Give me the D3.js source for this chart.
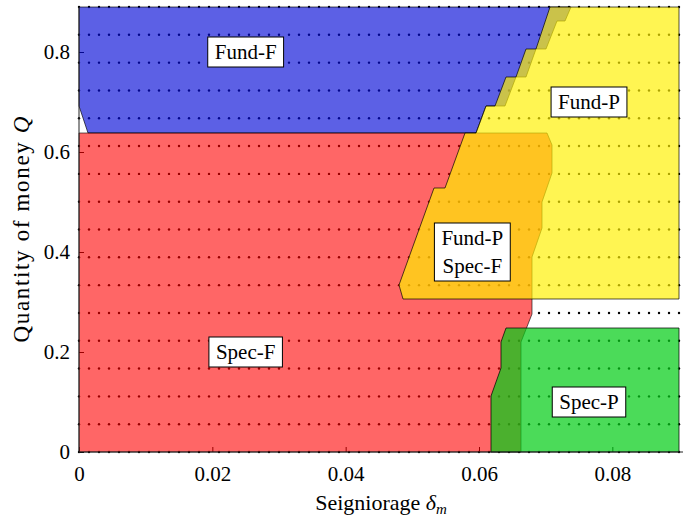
<!DOCTYPE html>
<html>
<head>
<meta charset="utf-8">
<script src="https://cdn.jsdelivr.net/npm/d3@7"></script>
<style>
  body { margin: 0; background: #fff; }
  text { font-family: "Liberation Serif", serif; fill: #000; }
</style>
</head>
<body>
<div id="plot"></div>
<script>
const w = 692, h = 518,
    margin = {top: 7, right: 9, bottom: 66, left: 79}

// simulation grid (seigniorage x quantity of money)
const deltaGrid = d3.range(0, 61).map(i => i * 0.0015)
const qGrid = d3.range(0, 17).map(j => j * 0.89 / 16)

const xTicks = [0, 0.02, 0.04, 0.06, 0.08]
const yTicks = [0, 0.2, 0.4, 0.6, 0.8]

// equilibrium regions, [delta_m, Q]
const fundF = [[0, 0.89], [0.0738, 0.89], [0.0729, 0.862], [0.0717, 0.862], [0.07005, 0.806],
  [0.06855, 0.806], [0.06705, 0.75], [0.06555, 0.75], [0.0639, 0.692], [0.06105, 0.692],
  [0.05955, 0.638], [0.00135, 0.638], [0, 0.692]]
const specF = [[0, 0.638], [0.0702, 0.638], [0.07095, 0.614], [0.07095, 0.558], [0.06945, 0.5],
  [0.06945, 0.448], [0.06795, 0.39], [0.06795, 0.276], [0.0663, 0.22], [0.0663, 0], [0, 0]]
const fundP = [[0.07065, 0.89], [0.09, 0.89], [0.09, 0.306], [0.0486, 0.306], [0.048, 0.334],
  [0.05325, 0.528], [0.0549, 0.528], [0.0579, 0.638], [0.05955, 0.638], [0.06105, 0.692],
  [0.0624, 0.692], [0.06405, 0.75], [0.06555, 0.75], [0.06705, 0.806], [0.06855, 0.806]]
const specP = [[0.06405, 0.248], [0.09, 0.248], [0.09, 0], [0.0618, 0], [0.0618, 0.112],
  [0.0633, 0.168], [0.0633, 0.22]]

const regions = [
  {name: "Fund-F", pts: fundF, color: "rgb(5,10,215)", alpha: 0.65},
  {name: "Spec-F", pts: specF, color: "rgb(255,0,0)", alpha: 0.6},
  {name: "Fund-P", pts: fundP, color: "rgb(255,240,0)", alpha: 0.68},
  {name: "Spec-P", pts: specP, color: "rgb(5,205,25)", alpha: 0.72}
]

const labels = [
  {lines: ["Fund-F"], x: 0.025, y: 0.8},
  {lines: ["Fund-P"], x: 0.0765, y: 0.7},
  {lines: ["Fund-P", "Spec-F"], x: 0.059, y: 0.4},
  {lines: ["Spec-F"], x: 0.025, y: 0.2},
  {lines: ["Spec-P"], x: 0.0765, y: 0.1}
]

const x = d3.scaleLinear()
    .domain([0, 0.0906])
    .range([margin.left, w - margin.right]),
  y = d3.scaleLinear()
    .domain([0, 0.89])
    .range([h - margin.bottom, margin.top])

const svg = d3.select("#plot").append("svg")
  .attr("width", w)
  .attr("height", h)

// inward ticks, under the fills
svg.append("g")
  .attr("transform", `translate(0, ${y(0)})`)
  .call(d3.axisBottom(x).tickValues(xTicks).tickSize(-5).tickFormat(d => d === 0 ? "0" : d3.format(".2f")(d)))
  .call(g => g.select(".domain").remove())
  .call(g => g.selectAll("text").attr("dy", null).attr("y", 29)
    .style("font-size", "21px").style("font-family", "Liberation Serif"))

svg.append("g")
  .attr("transform", `translate(${x(0)}, 0)`)
  .call(d3.axisLeft(y).tickValues(yTicks).tickSize(-5).tickFormat(d => d === 0 ? "0" : d3.format(".1f")(d)))
  .call(g => g.select(".domain").remove())
  .call(g => g.selectAll("text").attr("x", -9).attr("dy", "0.33em")
    .style("font-size", "21px").style("font-family", "Liberation Serif"))

// grid dots
const dots = []
deltaGrid.forEach(d => qGrid.forEach(q => dots.push([d, q])))
svg.append("g").selectAll("circle")
  .data(dots)
  .join("circle")
  .attr("cx", d => x(d[0]))
  .attr("cy", d => y(d[1]))
  .attr("r", 1.2)
  .attr("fill", "#000")

// regions, translucent so overlaps mix
const line = d3.line().x(d => x(d[0])).y(d => y(d[1]))
svg.append("g").selectAll("path")
  .data(regions)
  .join("path")
  .attr("d", d => line(d.pts) + "Z")
  .attr("fill", d => d.color)
  .attr("fill-opacity", d => d.alpha)
  .attr("stroke", "#000")
  .attr("stroke-opacity", d => d.alpha)
  .attr("stroke-width", 1)

// axis lines
svg.append("line")
  .attr("x1", x(0)).attr("x2", x(0.0906))
  .attr("y1", y(0)).attr("y2", y(0))
  .attr("stroke", "#222").attr("stroke-width", 1)
svg.append("line")
  .attr("x1", x(0)).attr("x2", x(0))
  .attr("y1", y(0)).attr("y2", y(0.89))
  .attr("stroke", "#222").attr("stroke-width", 1)

// region labels in boxes
labels.forEach(l => {
  const g = svg.append("g")
  const lh = 28
  const t = g.append("text")
    .attr("text-anchor", "middle")
    .style("font-size", "21px")
  l.lines.forEach((s, i) => {
    t.append("tspan")
      .attr("x", x(l.x))
      .attr("y", y(l.y) + (i - (l.lines.length - 1) / 2) * lh)
      .attr("dy", "0.35em")
      .text(s)
  })
  const bb = t.node().getBBox()
  const bw = bb.width + 14, bh = l.lines.length * lh + 2
  g.insert("rect", "text")
    .attr("x", x(l.x) - bw / 2)
    .attr("y", y(l.y) - bh / 2)
    .attr("width", bw)
    .attr("height", bh)
    .attr("fill", "#fff")
    .attr("stroke", "#000")
    .attr("stroke-width", 1)
})

// axis titles
const xl = svg.append("text")
  .attr("x", (x(0) + x(0.0906)) / 2)
  .attr("y", 510)
  .attr("text-anchor", "middle")
  .style("font-size", "22px")
xl.append("tspan").text("Seigniorage ")
xl.append("tspan").style("font-style", "italic").text("δ")
xl.append("tspan").style("font-style", "italic").style("font-size", "15px").attr("dy", 4).text("m")

const yl = svg.append("text")
  .attr("transform", `translate(29, ${(y(0) + y(0.89)) / 2}) rotate(-90)`)
  .attr("text-anchor", "middle")
  .style("font-size", "23px")
  .attr("textLength", 226)
  .attr("lengthAdjust", "spacing")
yl.append("tspan").text("Quantity of money ")
yl.append("tspan").style("font-style", "italic").text("Q")
</script>
</body>
</html>
